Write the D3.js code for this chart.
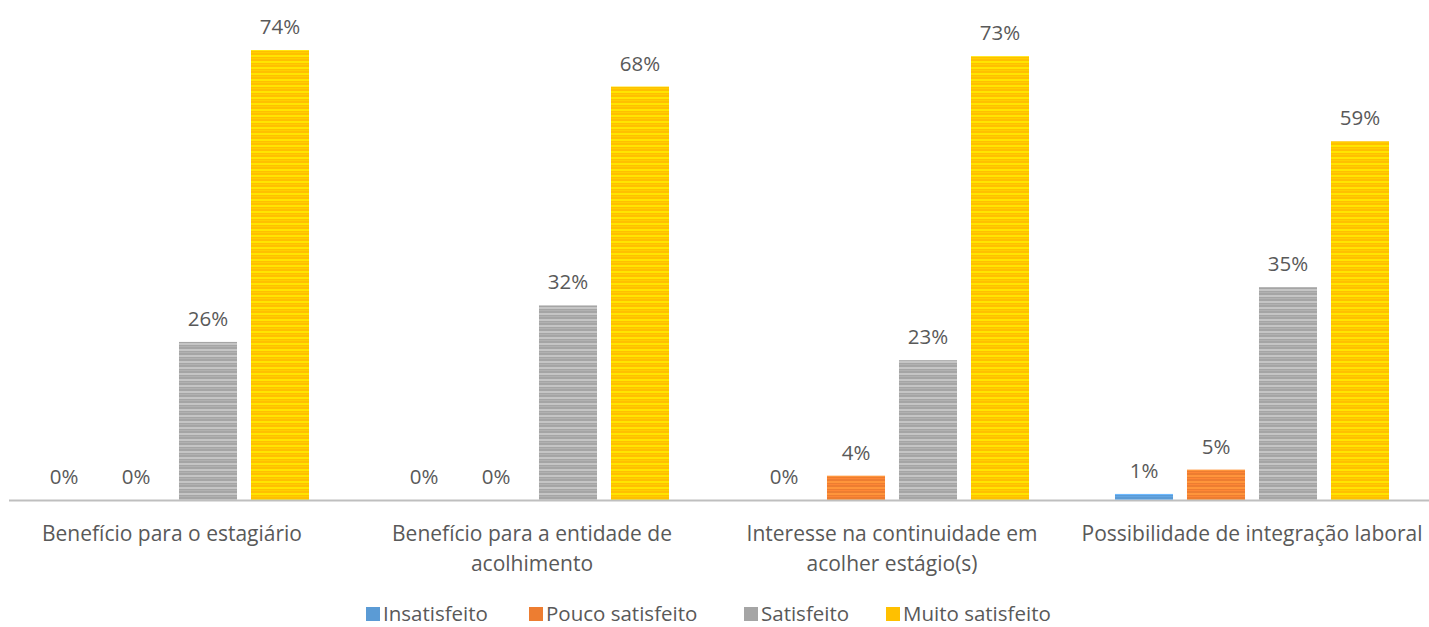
<!DOCTYPE html>
<html>
<head>
<meta charset="utf-8">
<script src="https://cdn.jsdelivr.net/npm/d3@7"></script>
<style>
  body { margin: 0; background: #fff; }
  svg text { font-family: "Open Sans", "Noto Sans", sans-serif; fill: #595959; }
</style>
</head>
<body>
<svg class="chart" width="1429" height="627"></svg>
<script>
const categories = [
    ["Benefício para o estagiário"],
    ["Benefício para a entidade de", "acolhimento"],
    ["Interesse na continuidade em", "acolher estágio(s)"],
    ["Possibilidade de integração laboral"]
];
const seriesNames = ["Insatisfeito", "Pouco satisfeito", "Satisfeito", "Muito satisfeito"];
const insatisfeito = [0, 0, 0, 1];
const poucoSatisfeito = [0, 0, 4, 5];
const satisfeito = [26, 32, 23, 35];
const muitoSatisfeito = [74, 68, 73, 59];
const colors = ["#5b9bd5", "#ed7d31", "#a5a5a5", "#ffc000"];

const seriesValues = [insatisfeito, poucoSatisfeito, satisfeito, muitoSatisfeito];

const svg = d3.select("svg.chart");
const baseY = 500;

const x0 = d3.scaleBand().domain(d3.range(categories.length)).range([-8, 1432]);
const x1 = d3.scaleBand().domain(d3.range(seriesNames.length))
    .range([0, x0.bandwidth()]).paddingInner(0.194).paddingOuter(0.597);
const y = d3.scaleLinear().domain([0, 80]).range([baseY, baseY - 80 * 6.08]);

// striped fills
const defs = svg.append("defs");
colors.forEach((c, i) => {
    const p = defs.append("pattern")
        .attr("id", "stripe" + i)
        .attr("patternUnits", "userSpaceOnUse")
        .attr("width", 10).attr("height", 6);
    p.append("rect").attr("width", 10).attr("height", 6).attr("fill", c);
    p.append("rect").attr("y", 1).attr("width", 10).attr("height", 2)
        .attr("fill", d3.color(c).brighter(0.5));
    p.append("rect").attr("y", 4).attr("width", 10).attr("height", 1)
        .attr("fill", d3.color(c).brighter(0.2));
});

const groups = svg.selectAll(".group")
    .data(categories)
    .enter().append("g")
    .attr("class", "group")
    .attr("transform", (d, i) => `translate(${x0(i)},0)`);

groups.each(function(cat, ci) {
    const g = d3.select(this);
    const vals = seriesValues.map((s, si) => ({si, v: s[ci]}));
    g.selectAll("rect.bar")
        .data(vals)
        .enter().append("rect")
        .attr("class", "bar")
        .attr("x", d => x1(d.si))
        .attr("y", d => y(d.v))
        .attr("width", x1.bandwidth())
        .attr("height", d => baseY - y(d.v))
        .attr("fill", d => `url(#stripe${d.si})`);
    g.selectAll("text.val")
        .data(vals)
        .enter().append("text")
        .attr("class", "val")
        .attr("x", d => x1(d.si) + x1.bandwidth() / 2)
        .attr("y", d => y(d.v) - 16)
        .attr("text-anchor", "middle")
        .style("font-size", "20.5px")
        .text(d => d.v + "%");
    const lbl = g.append("text")
        .attr("text-anchor", "middle")
        .style("font-size", "21px");
    cat.forEach((line, li) => {
        lbl.append("tspan")
            .attr("x", x0.bandwidth() / 2)
            .attr("y", 541 + li * 30)
            .text(line);
    });
});

// axis line
svg.append("line")
    .attr("x1", 9).attr("x2", 1429)
    .attr("y1", baseY + 0.5).attr("y2", baseY + 0.5)
    .attr("stroke", "#bfbfbf").attr("stroke-width", 2);

// legend
const legendX = [366, 529, 744, 886];
const legend = svg.append("g").attr("class", "legend");
seriesNames.forEach((name, i) => {
    const item = legend.append("g").attr("transform", `translate(${legendX[i]},607)`);
    item.append("rect").attr("width", 14).attr("height", 14).attr("fill", colors[i]);
    item.append("text").attr("x", 17).attr("y", 14)
        .style("font-size", "20.5px").text(name);
});
</script>
</body>
</html>
